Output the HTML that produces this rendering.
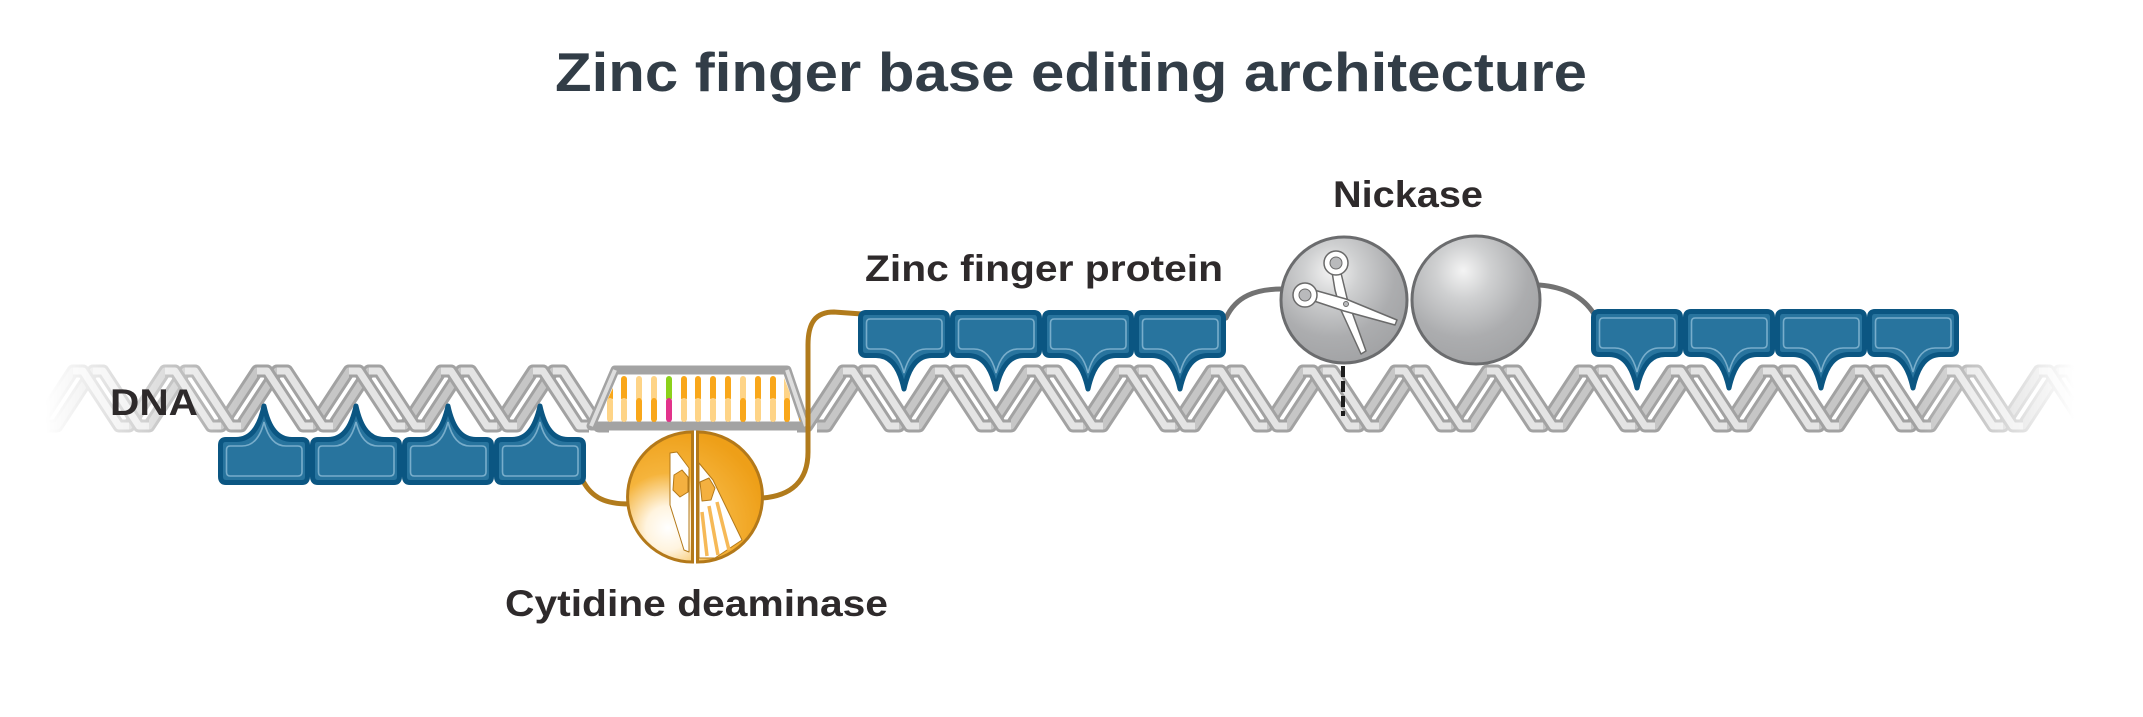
<!DOCTYPE html>
<html>
<head>
<meta charset="utf-8">
<style>
html,body{margin:0;padding:0;background:#fff;}
body{width:2143px;height:717px;overflow:hidden;}
svg{display:block;}
text{font-family:"Liberation Sans",Arial,sans-serif;font-weight:bold;}
</style>
</head>
<body>
<svg width="2143" height="717" viewBox="0 0 2143 717" xmlns="http://www.w3.org/2000/svg">
<defs>
  <linearGradient id="fadeG" gradientUnits="userSpaceOnUse" x1="0" y1="0" x2="2143" y2="0">
    <stop offset="0.021" stop-color="#fff" stop-opacity="0"/>
    <stop offset="0.115" stop-color="#fff" stop-opacity="1"/>
    <stop offset="0.894" stop-color="#fff" stop-opacity="1"/>
    <stop offset="0.968" stop-color="#fff" stop-opacity="0"/>
  </linearGradient>
  <mask id="fadeM" maskUnits="userSpaceOnUse" x="0" y="0" width="2143" height="717">
    <rect x="0" y="0" width="2143" height="717" fill="url(#fadeG)"/>
  </mask>
  <radialGradient id="goldG" gradientUnits="userSpaceOnUse" cx="668" cy="528" r="100" fx="668" fy="528">
    <stop offset="0" stop-color="#ffffff"/>
    <stop offset="0.22" stop-color="#fff4df"/>
    <stop offset="0.55" stop-color="#f5b43c"/>
    <stop offset="1" stop-color="#ee9f18"/>
  </radialGradient>
  <radialGradient id="greyG" cx="0.4" cy="0.3" r="0.72" fx="0.4" fy="0.27">
    <stop offset="0" stop-color="#f4f4f4"/>
    <stop offset="0.3" stop-color="#cfd0d1"/>
    <stop offset="0.7" stop-color="#acadaf"/>
    <stop offset="1" stop-color="#a2a3a5"/>
  </radialGradient>
  <clipPath id="bubClip">
    <path d="M597,422 L619,375 L783,375 L801,422 Z"/>
  </clipPath>
  <path id="asc" d="M27,426h10l36,-55h10 m36,55h10l36,-55h10 m36,55h10l36,-55h10 m36,55h10l36,-55h10 m36,55h10l36,-55h10 m36,55h10l36,-55h10
    M47,426h10l36,-55h10 m36,55h10l36,-55h10 m36,55h10l36,-55h10 m36,55h10l36,-55h10 m36,55h10l36,-55h10 m36,55h10l36,-55h10
    M797,426h10l36,-55h10 m36,55h10l36,-55h10 m36,55h10l36,-55h10 m36,55h10l36,-55h10 m36,55h10l36,-55h10 m36,55h10l36,-55h10 m36,55h10l36,-55h10 m36,55h10l36,-55h10 m36,55h10l36,-55h10 m36,55h10l36,-55h10 m36,55h10l36,-55h10 m36,55h10l36,-55h10 m36,55h10l36,-55h10 m36,55h10l36,-55h10 m36,55h10l36,-55h10
    M817,426h10l36,-55h10 m36,55h10l36,-55h10 m36,55h10l36,-55h10 m36,55h10l36,-55h10 m36,55h10l36,-55h10 m36,55h10l36,-55h10 m36,55h10l36,-55h10 m36,55h10l36,-55h10 m36,55h10l36,-55h10 m36,55h10l36,-55h10 m36,55h10l36,-55h10 m36,55h10l36,-55h10 m36,55h10l36,-55h10 m36,55h10l36,-55h10"/>
  <path id="desc" d="M73,371h10l36,55h10 m36,-55h10l36,55h10 m36,-55h10l36,55h10 m36,-55h10l36,55h10 m36,-55h10l36,55h10 m36,-55h10l36,55h10
    M93,371h10l36,55h10 m36,-55h10l36,55h10 m36,-55h10l36,55h10 m36,-55h10l36,55h10 m36,-55h10l36,55h10 m36,-55h10l36,55h10
    M843,371h10l36,55h10 m36,-55h10l36,55h10 m36,-55h10l36,55h10 m36,-55h10l36,55h10 m36,-55h10l36,55h10 m36,-55h10l36,55h10 m36,-55h10l36,55h10 m36,-55h10l36,55h10 m36,-55h10l36,55h10 m36,-55h10l36,55h10 m36,-55h10l36,55h10 m36,-55h10l36,55h10 m36,-55h10l36,55h10 m36,-55h10l36,55h10
    M863,371h10l36,55h10 m36,-55h10l36,55h10 m36,-55h10l36,55h10 m36,-55h10l36,55h10 m36,-55h10l36,55h10 m36,-55h10l36,55h10 m36,-55h10l36,55h10 m36,-55h10l36,55h10 m36,-55h10l36,55h10 m36,-55h10l36,55h10 m36,-55h10l36,55h10 m36,-55h10l36,55h10 m36,-55h10l36,55h10 m36,-55h10l36,55h10"/>
  <g id="zf">
    <path d="M8,2.5H84Q89.5,2.5 89.5,8.5V40Q89.5,45.5 84,45.5H74C60,45.5 51,56 46,79C41,56 32,45.5 18,45.5H8Q2.5,45.5 2.5,40V8.5Q2.5,2.5 8,2.5Z" fill="#28749e" stroke="#0b5682" stroke-width="5" stroke-linejoin="round"/>
    <path d="M12,9H80Q84,9 84,13V35Q84,39 80,39H68C57,39 50,47 46,63C42,47 35,39 24,39H12Q8.5,39 8.5,35V13Q8.5,9 12,9Z" fill="none" stroke="#93c0d9" stroke-width="1.6" opacity="0.75"/>
  </g>
</defs>

<!-- Title -->
<text x="555" y="91" font-size="55" fill="#323d47" textLength="1032" lengthAdjust="spacingAndGlyphs">Zinc finger base editing architecture</text>

<!-- DNA helix -->
<g mask="url(#fadeM)" fill="none" stroke-linejoin="round">
  <use href="#asc" stroke="#a2a2a2" stroke-width="13"/>
  <use href="#asc" stroke="#c6c6c6" stroke-width="7"/>
  <use href="#desc" stroke="#a2a2a2" stroke-width="13"/>
  <use href="#desc" stroke="#e4e4e4" stroke-width="7"/>
</g>

<!-- Bubble (opened DNA) -->
<path d="M591,426 L615,370 L787,370 L806,426 Z" fill="#fff" stroke="#a3a3a3" stroke-width="9" stroke-linejoin="round"/>
<path d="M591,426 L615,370 M787,370 L806,426" stroke="#dedede" stroke-width="4" fill="none"/>
<g clip-path="url(#bubClip)" stroke-width="6" stroke-linecap="round">
  <line x1="595" y1="379" x2="595" y2="398" stroke="#f9a71a"/><line x1="595" y1="401" x2="595" y2="419" stroke="#fed487"/>
  <line x1="610" y1="379" x2="610" y2="398" stroke="#f9a71a"/><line x1="610" y1="401" x2="610" y2="419" stroke="#fed487"/>
  <line x1="624" y1="379" x2="624" y2="398" stroke="#f9a71a"/><line x1="624" y1="401" x2="624" y2="419" stroke="#fed487"/>
  <line x1="639" y1="379" x2="639" y2="398" stroke="#fed487"/><line x1="639" y1="401" x2="639" y2="419" stroke="#f9a71a"/>
  <line x1="654" y1="379" x2="654" y2="398" stroke="#fed487"/><line x1="654" y1="401" x2="654" y2="419" stroke="#f9a71a"/>
  <line x1="669" y1="379" x2="669" y2="398" stroke="#8cd11b"/><line x1="669" y1="401" x2="669" y2="419" stroke="#e2338b"/>
  <line x1="684" y1="379" x2="684" y2="398" stroke="#f9a71a"/><line x1="684" y1="401" x2="684" y2="419" stroke="#fed487"/>
  <line x1="698" y1="379" x2="698" y2="398" stroke="#f9a71a"/><line x1="698" y1="401" x2="698" y2="419" stroke="#fed487"/>
  <line x1="713" y1="379" x2="713" y2="398" stroke="#f9a71a"/><line x1="713" y1="401" x2="713" y2="419" stroke="#fed487"/>
  <line x1="728" y1="379" x2="728" y2="398" stroke="#f9a71a"/><line x1="728" y1="401" x2="728" y2="419" stroke="#fed487"/>
  <line x1="743" y1="379" x2="743" y2="398" stroke="#fed487"/><line x1="743" y1="401" x2="743" y2="419" stroke="#f9a71a"/>
  <line x1="758" y1="379" x2="758" y2="398" stroke="#f9a71a"/><line x1="758" y1="401" x2="758" y2="419" stroke="#fed487"/>
  <line x1="773" y1="379" x2="773" y2="398" stroke="#f9a71a"/><line x1="773" y1="401" x2="773" y2="419" stroke="#fed487"/>
  <line x1="787" y1="379" x2="787" y2="398" stroke="#fed487"/><line x1="787" y1="401" x2="787" y2="419" stroke="#f9a71a"/>
  <line x1="802" y1="379" x2="802" y2="398" stroke="#fed487"/><line x1="802" y1="401" x2="802" y2="419" stroke="#f9a71a"/>
</g>

<!-- Nick dashed line -->
<line x1="1343" y1="366" x2="1343" y2="416" stroke="#1e1e1e" stroke-width="4" stroke-dasharray="11,4"/>

<!-- Linkers -->
<g fill="none" stroke-width="5" stroke-linecap="round">
  <path d="M583,481 C592,498 606,504 629,504" stroke="#b17b1c"/>
  <path d="M762,498 C790,496 808,482 808,452 L808,345 C808,322 816,312 834,312 L862,314" stroke="#b17b1c"/>
  <path d="M1226,318 C1236,296 1256,289 1282,289" stroke="#727272"/>
  <path d="M1539,285 C1566,287 1584,298 1594,314" stroke="#727272"/>
</g>

<!-- Zinc finger blocks -->
<use href="#zf" transform="translate(218,485) scale(1,-1)"/>
<use href="#zf" transform="translate(310,485) scale(1,-1)"/>
<use href="#zf" transform="translate(402,485) scale(1,-1)"/>
<use href="#zf" transform="translate(494,485) scale(1,-1)"/>

<use href="#zf" x="858" y="310"/>
<use href="#zf" x="950" y="310"/>
<use href="#zf" x="1042" y="310"/>
<use href="#zf" x="1134" y="310"/>

<use href="#zf" x="1591" y="309"/>
<use href="#zf" x="1683" y="309"/>
<use href="#zf" x="1775" y="309"/>
<use href="#zf" x="1867" y="309"/>

<!-- Cytidine deaminase -->
<path d="M692.5,432 A65,65 0 0,0 692.5,562 Z" fill="url(#goldG)" stroke="#b3791a" stroke-width="3"/>
<path d="M697.5,432 A65,65 0 0,1 697.5,562 Z" fill="url(#goldG)" stroke="#b3791a" stroke-width="3"/>
<g stroke="#b3791a" stroke-width="1" stroke-linejoin="round">
  <polygon points="670,453 677,452 689,468 689,552 684,550 670,505" fill="#fff"/>
  <polygon points="674,475 682,470 688,477 688,492 680,497 673,490" fill="#f4b040"/>
  <polygon points="699,463 713,480 742,540 715,558 699,558" fill="#fff"/>
  <polygon points="700,482 709,478 715,488 711,500 702,501" fill="#f4b040"/>
</g>
<g stroke="#f6b957" stroke-width="3.5">
  <line x1="702" y1="512" x2="707" y2="556"/>
  <line x1="709" y1="506" x2="718" y2="555"/>
  <line x1="717" y1="502" x2="729" y2="550"/>
</g>

<!-- Nickase -->
<circle cx="1344" cy="300" r="63" fill="url(#greyG)" stroke="#6b6c6e" stroke-width="3"/>
<circle cx="1476" cy="300" r="64" fill="url(#greyG)" stroke="#6b6c6e" stroke-width="3"/>
<g fill="#fff" stroke="#6a6a6a" stroke-width="1.5" stroke-linejoin="round">
  <polygon points="1332,272 1341,273 1347,298 1366,351 1361,354 1340,308 1335,290"/>
  <polygon points="1314,290 1346,299 1397,320 1395,325 1344,311 1314,301"/>
  <circle cx="1336" cy="263" r="12"/>
  <circle cx="1305" cy="295" r="12"/>
</g>
<g fill="#b9babc" stroke="#6a6a6a" stroke-width="1">
  <circle cx="1336" cy="263" r="6"/>
  <circle cx="1305" cy="295" r="6"/>
  <circle cx="1346" cy="304" r="2.5"/>
</g>

<!-- Labels -->
<text x="110" y="415" font-size="37" fill="#2e2a2b" textLength="88" lengthAdjust="spacingAndGlyphs">DNA</text>
<text x="865" y="281" font-size="37" fill="#2e2a2b" textLength="358" lengthAdjust="spacingAndGlyphs">Zinc finger protein</text>
<text x="1333" y="207" font-size="37" fill="#2e2a2b" textLength="150" lengthAdjust="spacingAndGlyphs">Nickase</text>
<text x="505" y="616" font-size="37" fill="#2e2a2b" textLength="383" lengthAdjust="spacingAndGlyphs">Cytidine deaminase</text>
</svg>
</body>
</html>
